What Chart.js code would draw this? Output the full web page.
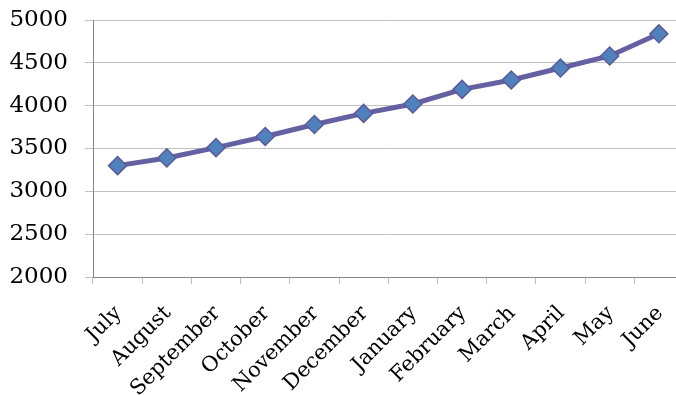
<!DOCTYPE html>
<html>
<head>
<meta charset="utf-8">
<script src="https://cdn.jsdelivr.net/npm/chart.js@4/dist/chart.umd.min.js"></script>
<style>
  html, body { margin: 0; padding: 0; background: #fff; overflow: hidden; }
  #wrap { position: relative; width: 694px; height: 395px; }
</style>
</head>
<body>
<div id="wrap"><canvas id="chart"></canvas></div>
<script>
// Monthly totals, July through June
const months = ['July', 'August', 'September', 'October', 'November', 'December',
                'January', 'February', 'March', 'April', 'May', 'June'];
const totals = [3300, 3390, 3510, 3640, 3780, 3910, 4020, 4190, 4300, 4440, 4580, 4840];
const yTicks = [2000, 2500, 3000, 3500, 4000, 4500, 5000];

const serifFamily = '"DejaVu Serif", serif';

// Category labels drawn at a fixed 45° slant, each ending under its own category
const slantedLabels = {
  id: 'slantedLabels',
  afterDraw(chart) {
    const xs = chart.scales.x;
    const ctx = chart.ctx;
    ctx.save();
    ctx.fillStyle = '#000';
    ctx.font = '21px ' + serifFamily;
    ctx.textAlign = 'right';
    ctx.textBaseline = 'middle';
    xs.ticks.forEach((t, i) => {
      const x = xs.getPixelForTick(i) + 1;
      const y = xs.top + 33;
      ctx.save();
      ctx.translate(x, y);
      ctx.rotate(-Math.PI / 4);
      ctx.fillText(chart.data.labels[i], 0, 0);
      ctx.restore();
    });
    ctx.restore();
  }
};

new Chart(document.getElementById('chart'), {
  type: 'line',
  data: {
    labels: months,
    datasets: [{
      data: totals,
      borderColor: '#6560a2',
      borderWidth: 5,
      tension: 0,
      pointStyle: 'rectRot',
      pointRadius: 9,
      pointHoverRadius: 9,
      pointBackgroundColor: '#4f81bd',
      pointBorderColor: '#5d5a9c',
      pointBorderWidth: 1.5
    }]
  },
  plugins: [slantedLabels],
  options: {
    responsive: true,
    maintainAspectRatio: false,
    animation: false,
    layout: { padding: { left: 10, top: 20, right: 0, bottom: 0 } },
    plugins: { legend: { display: false }, tooltip: { enabled: false } },
    scales: {
      x: {
        offset: true,
        grid: { display: true, drawOnChartArea: false, drawTicks: true, offset: true, color: '#bfbfbf', tickLength: 7 },
        border: { color: '#868686', width: 1 },
        ticks: { display: false, autoSkip: false },
        afterFit: s => { s.height = 118; s.paddingLeft = 0; s.paddingRight = 0; }
      },
      y: {
        min: 2000,
        max: 5000,
        afterBuildTicks: s => { s.ticks = yTicks.map(v => ({ value: v })); },
        grid: { color: '#c0c0c0', tickLength: 8, tickColor: '#c0c0c0' },
        border: { color: '#868686', width: 1 },
        ticks: { color: '#000', font: { family: serifFamily, size: 23 }, padding: 17, callback: v => String(v) },
        afterFit: s => { s.width = 83; s.paddingTop = 0; s.paddingBottom = 0; }
      }
    }
  }
});
</script>
</body>
</html>
